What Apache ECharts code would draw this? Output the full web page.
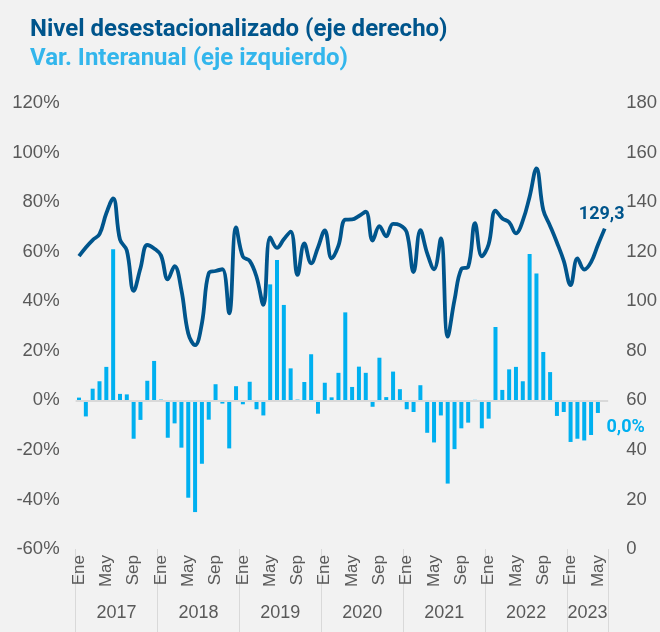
<!DOCTYPE html>
<html>
<head>
<meta charset="utf-8">
<script src="https://cdn.jsdelivr.net/npm/echarts@6/dist/echarts.min.js"></script>
<style>
  html, body { margin: 0; padding: 0; background: #f2f2f2; }
  #main { width: 660px; height: 632px; }
</style>
</head>
<body>
<div id="main"></div>
<script>
// meses ene-2017 .. jun-2023
var monthNames = ['Ene', 'Feb', 'Mar', 'Abr', 'May', 'Jun', 'Jul', 'Ago', 'Sep', 'Oct', 'Nov', 'Dic'];
var yearNames = ['2017', '2018', '2019', '2020', '2021', '2022', '2023'];
var monthsPerYear = [12, 12, 12, 12, 12, 12, 6];

// Var. interanual (%), eje izquierdo
var varInteranual = [
  1.1, -6.5, 4.7, 7.7, 13.5, 61.0, 2.6, 2.4, -15.5, -7.9, 7.9, 15.9,
  0.3, -15.1, -9.3, -19.1, -39.3, -45.1, -25.6, -7.8, 6.5, -1.3, -19.4, 5.7,
  -1.6, 7.5, -3.6, -6.1, 46.8, 56.6, 38.5, 12.9, 0.3, 7.4, 18.6, -5.4,
  7.1, 1.2, 11.1, 35.5, 5.4, 13.6, 11.1, -2.6, 17.2, 1.3, 11.6, 4.5,
  -3.6, -4.7, 6.1, -13.1, -17.0, -6.1, -33.6, -19.7, -11.3, -9.0, 0.2, -11.3,
  -7.4, 29.6, 4.2, 12.5, 13.5, 7.7, 59.1, 51.2, 19.5, 11.4, -6.3, -4.7,
  -16.8, -15.5, -16.2, -14.0, -5.1, 0.0
];

// Nivel desestacionalizado, eje derecho
var nivel = [
  118.2, 121.7, 124.7, 127.1, 135.5, 141.5, 124.9, 120.5, 104.2, 113.3, 122.7, 121.3,
  118.5, 108.8, 114.2, 104.5, 87.0, 82.3, 91.1, 111.3, 112.2, 112.9, 95.1, 129.8,
  118.0, 116.3, 109.9, 98.5, 125.8, 121.5, 125.0, 128.1, 110.6, 123.3, 115.3, 121.7,
  128.6, 117.3, 122.4, 132.9, 133.0, 134.4, 136.1, 124.5, 130.3, 126.2, 131.2, 130.7,
  127.8, 111.8, 128.7, 119.3, 112.9, 125.4, 85.7, 100.5, 113.0, 113.9, 131.5, 118.1,
  123.0, 136.6, 133.4, 131.9, 127.4, 132.5, 142.2, 153.6, 136.8, 130.4, 123.7, 116.3,
  106.5, 117.3, 112.8, 115.8, 122.7, 129.3
];

var leftTicks = { min: -60, max: 120, interval: 20 };
var rightTicks = { min: 0, max: 180, interval: 20 };

var months = [];
var years = [];
var yearLabelIdx = {};
var k = 0;
for (var y = 0; y < yearNames.length; y++) {
  yearLabelIdx[k + Math.floor(monthsPerYear[y] / 2)] = true;
  for (var m = 0; m < monthsPerYear[y]; m++) {
    months.push(monthNames[m]);
    years.push(yearNames[y]);
    k++;
  }
}
var last = nivel.length - 1;

var darkBlue = '#00558c';
var lightBlue = '#00b0f0';
var grey = '#595959';
var narrow = "'Liberation Sans Narrow', 'Liberation Sans', Arial, sans-serif";

var chartDom = document.getElementById('main');
var myChart = echarts.init(chartDom);
var option;

option = {
  backgroundColor: '#f2f2f2',
  animation: false,
  title: [
    {
      text: 'Nivel desestacionalizado (eje derecho)',
      left: 25, top: 12,
      textStyle: { color: darkBlue, fontFamily: 'Roboto', fontWeight: 'bold', fontSize: 24, lineHeight: 26 }
    },
    {
      text: 'Var. Interanual (eje izquierdo)',
      left: 25, top: 41,
      textStyle: { color: '#33b6ec', fontFamily: 'Roboto', fontWeight: 'bold', fontSize: 24, lineHeight: 26 }
    }
  ],
  grid: { left: 75.6, right: 50, top: 103, bottom: 83, containLabel: false },
  xAxis: [
    {
      type: 'category',
      data: months,
      position: 'bottom',
      axisLine: { show: false, onZero: false },
      axisTick: {
        show: true,
        length: 84,
        interval: function (i) { return i % 12 === 0; },
        lineStyle: { color: '#d9d9d9', width: 1 }
      },
      axisLabel: {
        interval: function (i) { return i % 4 === 0; },
        rotate: 90,
        margin: 6,
        color: grey,
        fontFamily: narrow,
        fontSize: 17
      }
    },
    {
      type: 'category',
      data: years,
      position: 'bottom',
      axisLine: { show: false, onZero: false },
      axisTick: { show: false },
      axisLabel: {
        interval: function (i) { return yearLabelIdx[i] === true; },
        margin: 55,
        padding: [0, 7, 0, 0],
        color: grey,
        fontFamily: narrow,
        fontSize: 18
      }
    }
  ],
  yAxis: [
    {
      type: 'value',
      min: leftTicks.min, max: leftTicks.max, interval: leftTicks.interval,
      axisLine: { show: false },
      axisTick: { show: false },
      splitLine: { show: false },
      axisLabel: {
        formatter: '{value}%',
        margin: 16,
        color: grey,
        fontFamily: "'Liberation Sans', Arial, sans-serif",
        fontSize: 18.5
      }
    },
    {
      type: 'value',
      position: 'right',
      min: rightTicks.min, max: rightTicks.max, interval: rightTicks.interval,
      axisLine: { show: false },
      axisTick: { show: false },
      splitLine: { show: false },
      axisLabel: {
        margin: 18,
        color: grey,
        fontFamily: "'Liberation Sans', Arial, sans-serif",
        fontSize: 18.5
      }
    }
  ],
  series: [
    {
      name: 'Var. Interanual',
      type: 'bar',
      xAxisIndex: 0,
      yAxisIndex: 0,
      barWidth: 4,
      itemStyle: { color: lightBlue },
      data: varInteranual.map(function (v, i) {
        if (i !== last) return v;
        return {
          value: v,
          label: {
            show: true,
            position: 'bottom',
            distance: 5,
            offset: [21, 13],
            formatter: function (p) { return p.value.toFixed(1).replace('.', ',') + '%'; },
            color: lightBlue,
            fontFamily: 'Roboto',
            fontWeight: 'bold',
            fontSize: 18
          }
        };
      }),
      markLine: {
        silent: true,
        symbol: 'none',
        label: { show: false },
        lineStyle: { color: '#d9d9d9', width: 2, type: 'solid' },
        data: [{ yAxis: 0 }]
      },
      z: 2
    },
    {
      name: 'Nivel desestacionalizado',
      type: 'line',
      xAxisIndex: 0,
      yAxisIndex: 1,
      smooth: 0.4,
      symbol: 'circle',
      symbolSize: 0,
      showSymbol: true,
      showAllSymbol: true,
      lineStyle: { color: darkBlue, width: 3.8 },
      itemStyle: { color: darkBlue },
      data: nivel.map(function (v, i) {
        if (i !== last) return v;
        return {
          value: v,
          label: {
            show: true,
            position: 'top',
            distance: 5,
            offset: [-3, 0],
            formatter: function (p) { return p.value.toFixed(1).replace('.', ','); },
            color: darkBlue,
            fontFamily: 'Roboto',
            fontWeight: 'bold',
            fontSize: 18
          }
        };
      }),
      z: 5
    }
  ]
};

option && myChart.setOption(option);
</script>
</body>
</html>
